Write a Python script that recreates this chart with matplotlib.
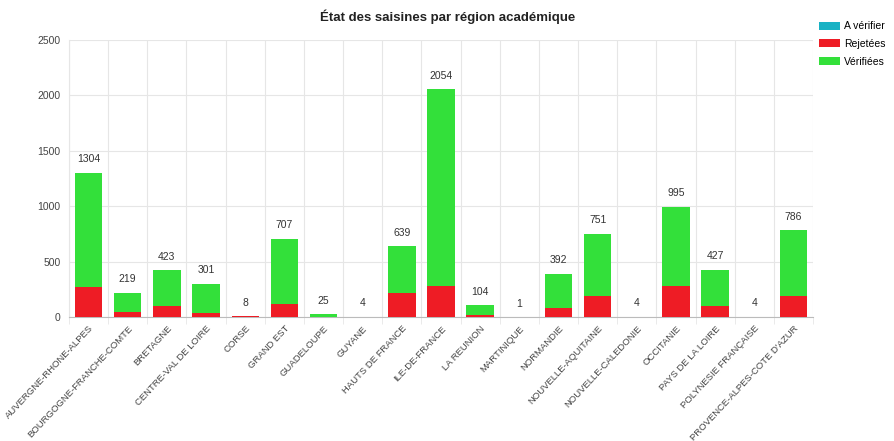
import matplotlib.pyplot as plt
import numpy as np

plt.rcParams['font.family'] = ['Liberation Sans', 'DejaVu Sans']

regions = ['AUVERGNE-RHONE-ALPES', 'BOURGOGNE-FRANCHE-COMTE', 'BRETAGNE',
           'CENTRE-VAL DE LOIRE', 'CORSE', 'GRAND EST', 'GUADELOUPE', 'GUYANE',
           'HAUTS DE FRANCE', 'ILE-DE-FRANCE', 'LA REUNION', 'MARTINIQUE',
           'NORMANDIE', 'NOUVELLE-AQUITAINE', 'NOUVELLE-CALEDONIE', 'OCCITANIE',
           'PAYS DE LA LOIRE', 'POLYNESIE FRANÇAISE', 'PROVENCE-ALPES-COTE D\'AZUR']
a_verifier = [0, 0, 0, 0, 0, 0, 0, 4, 0, 0, 0, 0, 0, 0, 4, 0, 0, 4, 0]
rejetees = [272, 42, 96, 39, 8, 117, 0, 0, 217, 283, 20, 0, 84, 190, 0, 277, 102, 0, 190]
totaux = [1304, 219, 423, 301, 8, 707, 25, 4, 639, 2054, 104, 1, 392, 751, 4, 995, 427, 4, 786]

a_verifier = np.array(a_verifier)
rejetees = np.array(rejetees)
totaux = np.array(totaux)
verifiees = totaux - rejetees - a_verifier

c_teal = '#19b2c4'
c_red = '#ee1c25'
c_green = '#33e03a'

fig = plt.figure(figsize=(8.95, 4.41), dpi=100)
ax = fig.add_axes([69 / 895, 1 - 317 / 441, 744 / 895, 277 / 441])

x = np.arange(len(regions))
w = 0.7
ax.bar(x, a_verifier, w, color=c_teal, label='A vérifier', zorder=3)
ax.bar(x, rejetees, w, bottom=a_verifier, color=c_red, label='Rejetées', zorder=3)
ax.bar(x, verifiees, w, bottom=a_verifier + rejetees, color=c_green,
       label='Vérifiées', zorder=3)

for xi, t in zip(x, totaux):
    ax.annotate(str(t), (xi, t), xytext=(0, 6), textcoords='offset points',
                ha='center', va='bottom', fontsize=7.5, color='#333333')

ax.set_xlim(-0.5, len(regions) - 0.5)
ax.set_ylim(0, 2500)
ax.set_yticks(range(0, 2501, 500))
ax.set_xticks(x)
ax.set_xticklabels(regions, rotation=47, ha='right', rotation_mode='anchor',
                   fontsize=6.8, color='#444444')
ax.tick_params(axis='y', labelsize=7.5, labelcolor='#444444', length=0, pad=6)
ax.tick_params(axis='x', length=0, pad=5)

ax.set_xticks(np.arange(-0.5, len(regions)), minor=True)
ax.tick_params(axis='x', which='minor', length=5, color='#e6e6e6')
ax.grid(True, axis='y', color='#e6e6e6', lw=0.8, zorder=0)
ax.grid(True, axis='x', which='minor', color='#e6e6e6', lw=0.8, zorder=0)
for s in ['top', 'right']:
    ax.spines[s].set_visible(False)
ax.spines['left'].set_color('#e6e6e6')
ax.spines['bottom'].set_color('#bbbbbb')

fig.text(0.5, 1 - 17 / 441, 'État des saisines par région académique',
         ha='center', va='center', fontsize=9.5, fontweight='bold', color='#222222')

fig.legend(loc='upper left', bbox_to_anchor=(815 / 895, 1 - 17 / 441),
           frameon=False, fontsize=7.5, handlelength=2.0, handleheight=0.8,
           handletextpad=0.4, labelspacing=0.75, borderaxespad=0)

fig.savefig('out.png', dpi=100)
